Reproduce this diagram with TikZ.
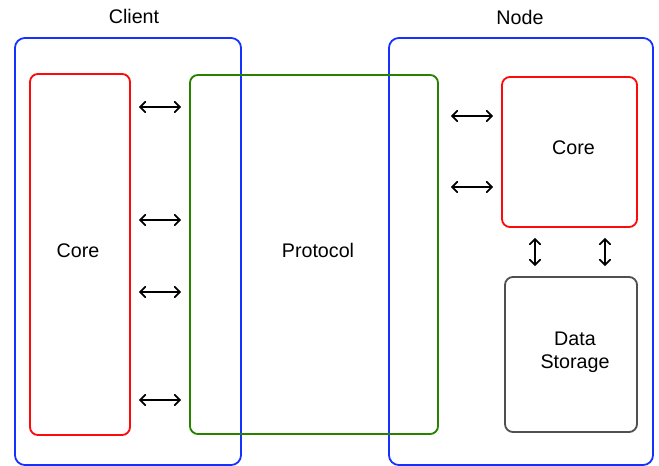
\documentclass[tikz,border=0pt]{standalone}
\usepackage{fontspec}
\setmainfont{Liberation Sans}
\usetikzlibrary{arrows,calc}
\usetikzlibrary{positioning}

\definecolor{frameblue}{RGB}{20,50,255}
\definecolor{corered}{RGB}{255,10,10}
\definecolor{protogreen}{RGB}{40,130,0}
\definecolor{storegray}{RGB}{80,80,80}

\tikzset{
    part/.style={draw=#1, rounded corners=0.2cm, line width=1.3pt, inner sep=0pt},
    frame/.style={draw=frameblue, rounded corners=0.25cm, line width=1.3pt, minimum height=10.675cm},
    link/.style={<->, line width=1.25pt, shorten >=0.2cm, shorten <=0.2cm}
}

\begin{document}
\begin{tikzpicture}[x=0.025cm, y=-0.025cm, >=angle 90, font=\fontsize{14}{16.5}\selectfont]
                \useasboundingbox (0,0) rectangle (659,466);
                % the two machines
                \node[frame, minimum width=5.65cm] (client) at (128,251.5) {};
                \node[frame, minimum width=6.6cm] (node) at (521,251.5) {};
                \node (clientlabel) at (134,16) {Client};
                \node (nodelabel) at (520,17) {Node};
                % parts
                \node[part=corered, minimum width=2.5cm, minimum height=9.025cm,
                      label={[shift={(-2,-4)}]center:Core}] (ccore) at (80,254.5) {};
                \node[part=protogreen, minimum width=6.2cm, minimum height=8.975cm,
                      label={[shift={(4,-4)}]center:Protocol}] (proto) at (314,254.5) {};
                \node[part=corered, minimum width=3.375cm, minimum height=3.75cm,
                      label={[shift={(4,-4)}]center:Core}] (ncore) at (569.5,152) {};
                \node[part=storegray, minimum width=3.3cm, minimum height=3.875cm,
                      label={[align=center, shift={(4,-2)}]center:Data\\Storage}] (store) at (571,354.5) {};
                % client core <-> protocol
                \draw[link] (ccore.east |- 0,107) -- (proto.west |- 0,107);
                \draw[link] (ccore.east |- 0,220) -- (proto.west |- 0,220);
                \draw[link] (ccore.east |- 0,292) -- (proto.west |- 0,292);
                \draw[link] (ccore.east |- 0,400) -- (proto.west |- 0,400);
                % protocol <-> node core
                \draw[link, shorten <=0.3cm] (proto.east |- 0,116) -- (ncore.west |- 0,116);
                \draw[link, shorten <=0.3cm] (proto.east |- 0,187) -- (ncore.west |- 0,187);
                % node core <-> storage
                \draw[link, shorten >=0.25cm, shorten <=0.25cm] (ncore.south -| 535,0) -- (store.north -| 535,0);
                \draw[link, shorten >=0.25cm, shorten <=0.25cm] (ncore.south -| 605,0) -- (store.north -| 605,0);
            \end{tikzpicture}
\end{document}
